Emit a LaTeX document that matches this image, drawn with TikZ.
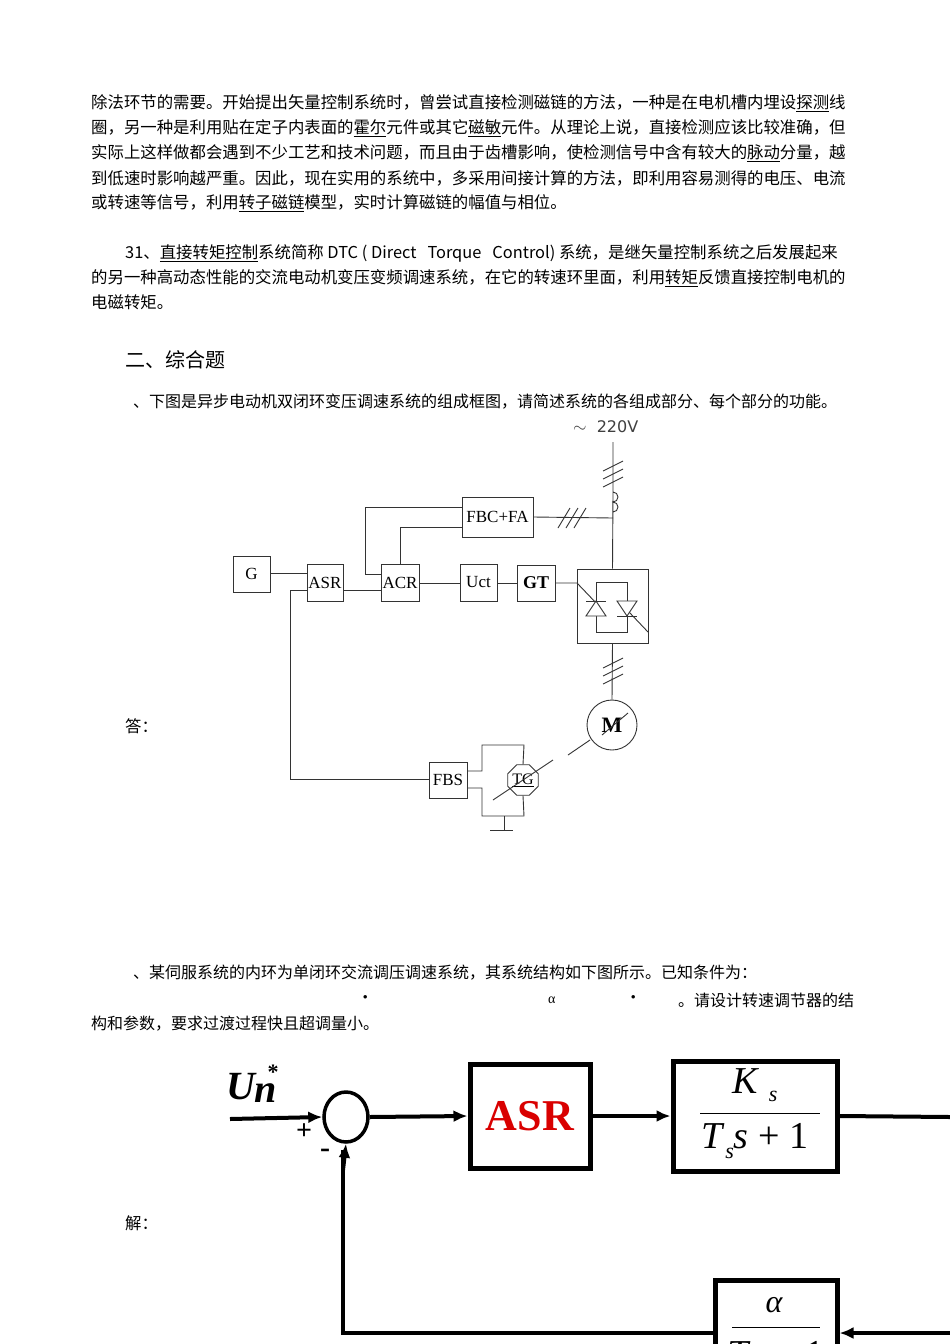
\documentclass[tikz,border=0pt]{standalone}
\usepackage{fontspec}
\setmainfont{Liberation Serif}
\newfontfamily\cjk{Noto Sans CJK SC}
\newfontfamily\dv{DejaVu Sans}
\usetikzlibrary{arrows.meta,shapes.geometric}
\begin{document}
\begin{tikzpicture}[x=1pt,y=-1pt,
  txt/.style={anchor=west,inner sep=0pt,font=\cjk\fontsize{16.4}{18}\selectfont},
  blk/.style={draw,wire,inner sep=0pt,font=\fontsize{17}{18}\selectfont},
  wire/.style={line width=0.9pt,draw=black!80},
  tb/.style={draw,line width=5pt,inner sep=0pt},
  tw/.style={line width=4pt},
  tarr/.style={tw,-{Latex[length=14pt,width=12pt]}}]
\useasboundingbox[fill=white] (0,0) rectangle (950,1344);
% ---- text ----
\node[txt] (l1) at (91,103) {除法环节的需要。开始提出矢量控制系统时，曾尝试直接检测磁链的方法，一种是在电机槽内埋设\underline{探测}线};
\node[txt] (l2) at (91,128) {圈，另一种是利用贴在定子内表面的\underline{霍尔}元件或其它\underline{磁敏}元件。从理论上说，直接检测应该比较准确，但};
\node[txt] (l3) at (91,153) {实际上这样做都会遇到不少工艺和技术问题，而且由于齿槽影响，使检测信号中含有较大的\underline{脉动}分量，越};
\node[txt] (l4) at (91,178) {到低速时影响越严重。因此，现在实用的系统中，多采用间接计算的方法，即利用容易测得的电压、电流};
\node[txt] (l5) at (91,203) {或转速等信号，利用\underline{转子磁链}模型，实时计算磁链的幅值与相位。};
\node[txt] (l6) at (125,253) {31、\underline{直接转矩控制}系统简称 DTC ( Direct \ \ Torque \ \ Control) 系统，是继矢量控制系统之后发展起来};
\node[txt] (l7) at (91,278) {的另一种高动态性能的交流电动机变压变频调速系统，在它的转速环里面，利用\underline{转矩}反馈直接控制电机的};
\node[txt] (l8) at (91,302) {电磁转矩。};
\node[txt,font=\cjk\fontsize{20}{22}\selectfont] (h2) at (125,360) {二、综合题};
\node[txt,font=\cjk\fontsize{16}{18}\selectfont] (q1) at (133,402) {、下图是异步电动机双闭环变压调速系统的组成框图，请简述系统的各组成部分、每个部分的功能。};
\node[txt] (ans) at (125,726) {答：};
\node[txt,font=\cjk\fontsize{16}{18}\selectfont] (q2) at (133,973) {、某伺服系统的内环为单闭环交流调压调速系统，其系统结构如下图所示。已知条件为：};
\node[txt] (d1) at (357,1000) {•};
\node[txt,font=\fontsize{14}{16}\selectfont] (al) at (548,1000) {α};
\node[txt] (d2) at (625,1000) {•};
\node[txt,font=\cjk\fontsize{16}{18}\selectfont] (q2b) at (678,1000) {。请设计转速调节器的结};
\node[txt,font=\cjk\fontsize{16}{18}\selectfont] (q2c) at (91,1024) {构和参数，要求过渡过程快且超调量小。};
\node[txt] (sol) at (125,1223) {解：};
% ---- diagram 1 ----
\node[anchor=west,inner sep=0pt,font=\dv\fontsize{16}{16}\selectfont,black!75] (v220) at (573,427) {$\sim$\ \ 220V};
\node[blk,minimum width=37pt,minimum height=36pt] (G) at (251.5,574) {G};
\node[blk,minimum width=36pt,minimum height=37pt] (ASR) at (325,582.5) {ASR};
\node[blk,minimum width=38pt,minimum height=37pt] (ACR) at (400,582.5) {ACR};
\node[blk,minimum width=37pt,minimum height=37pt] (Uct) at (478.5,582.5) {Uct};
\node[blk,minimum width=38pt,minimum height=36pt,font=\bfseries\fontsize{18}{18}\selectfont] (GT) at (536,583) {GT};
\node[blk,minimum width=71pt,minimum height=40pt] (FBC) at (497.5,517) {FBC+FA};
\node[blk,minimum width=71pt,minimum height=74pt] (CV) at (612.5,606) {};
\node[draw,wire,minimum width=31pt,minimum height=50pt,inner sep=0pt] (CVi) at (611.5,607) {};
\node[blk,minimum width=38pt,minimum height=36pt] (FBS) at (448,780) {FBS};
\node[draw,wire,circle,minimum size=50pt,inner sep=0pt,font=\bfseries\fontsize{22}{22}\selectfont] (M) at (612,725) {M};
\node[draw,wire,regular polygon,regular polygon sides=8,minimum size=33pt,inner sep=0pt,font=\fontsize{16}{16}\selectfont] (TG) at (523,780) {\underline{TG}};
\coordinate (top) at (613,442);
\draw[wire] (top) -- (613,512) arc[start angle=90,end angle=-90,radius=5] arc[start angle=90,end angle=-90,radius=5] -- (CV.north);
\draw[wire] (G.east|-573,573) -- (ASR.west|-573,573);
\draw[wire] (ASR.east|-590,590) -- (ACR.west|-590,590);
\draw[wire] (ACR.east|-583,583) -- (Uct.west|-583,583);
\draw[wire] (Uct.east|-583,583) -- (GT.west|-583,583);
\draw[wire] (GT.east|-583,583) -- (577,583) -- (599,606);
\draw[wire] (629,612) -- (648,632);
\draw[wire] (ACR.west|-574,574) -- (365,574) -- (365,507) -- (FBC.west|-507,507);
\draw[wire] (ACR.north-|400,564) -- (400,527) -- (FBC.west|-527,527);
\draw[wire] (FBC.east) -- (613,518);
\draw[wire] (CV.south) -- (M.north);
\draw[wire] (ASR.west|-590,590) -- (290,590) -- (290,779) -- (FBS.west|-779,779);
\draw[wire] (FBS.east|-771,771) -- (482,771) -- (482,745) -- (524,745) -- (TG.north);
\draw[wire] (FBS.east|-788,788) -- (482,788) -- (482,816) -- (524,816) -- (TG.south);
\coordinate (gnd) at (504,830);
\draw[wire] (504,816) -- (gnd);
\draw[wire] (490,830) -- (513,830);
\draw[wire] (568,755) -- (590,740);
\draw[wire] (493,800) -- (553,760);
\draw[wire] (602,735) -- (628,713);
% slashes
\foreach \yy in {466,474,482} \draw[wire] (603,\yy+5) -- (623,\yy-5);
\foreach \yy in {663,671,679} \draw[wire] (603,\yy+5) -- (623,\yy-5);
\foreach \xx in {564,572,580} \draw[wire] (\xx-6,528) -- (\xx+6,508);
% thyristors
\draw[wire,fill=white] (586,616) -- (606,616) -- (596,601) -- cycle;
\draw[wire] (586,601) -- (606,601);
\draw[wire,fill=white] (617,601) -- (637,601) -- (627,616) -- cycle;
\draw[wire] (617,616) -- (637,616);
% ---- diagram 2 ----
\node[anchor=center,inner sep=0pt,font=\bfseries\itshape\fontsize{40}{40}\selectfont] (Un) at (252,1088) {U\kern-1pt\raisebox{-3pt}{n}};
\node[inner sep=0pt,font=\bfseries\fontsize{22}{22}\selectfont] (st) at (273,1072) {*};
\node[draw,line width=3.5pt,ellipse,minimum width=44pt,minimum height=50pt,inner sep=0pt] (S) at (346,1117) {};
\node[tb,minimum width=120pt,minimum height=104pt,text=red!85!black,font=\bfseries\fontsize{44}{44}\selectfont] (A2) at (530,1116) {ASR};
\node[tb,minimum width=164pt,minimum height=110pt] (K) at (755,1116) {};
\node[tb,minimum width=122pt,minimum height=120pt,anchor=north] (F) at (776,1278) {};
\node[font=\itshape\fontsize{38}{38}\selectfont] (Kn) at (755,1085) {K\raisebox{-8pt}{\fontsize{22}{22}\selectfont\ \ s}};
\draw[line width=1pt] (700,1113) -- (820,1113);
\node[font=\fontsize{38}{38}\selectfont] (Kd) at (755,1141) {\textit{T}\raisebox{-10pt}{\fontsize{22}{22}\selectfont\textit{s}}\textit{s} + 1};
\node[font=\itshape\fontsize{32}{32}\selectfont] (Fa) at (774,1305) {α};
\draw[line width=1pt] (732,1327) -- (820,1327);
\node[font=\fontsize{38}{38}\selectfont] (Fd) at (776,1354) {\textit{T}\textit{s} + 1};
\coordinate (in) at (230,1119);
\coordinate (out) at (950,1117);
\coordinate (fbr) at (950,1333);
\coordinate (fbl) at (343,1333);
\draw[tarr] (in) -- (S.west);
\draw[tarr] (S.east) -- (A2.west);
\draw[tarr] (A2.east) -- (K.west);
\draw[tw] (K.east) -- (out);
\draw[tarr] (fbr) -- (F.east|-fbr);
\draw[tw] (F.west|-fbl) -- (fbl) -- (343,1150);
\draw[tarr] (343,1170) -- (S.south);
\node[font=\bfseries\fontsize{28}{28}\selectfont] (pl) at (304,1132) {+};
\node[font=\bfseries\fontsize{30}{30}\selectfont] (mi) at (325,1153) {-};
\end{tikzpicture}
\end{document}
